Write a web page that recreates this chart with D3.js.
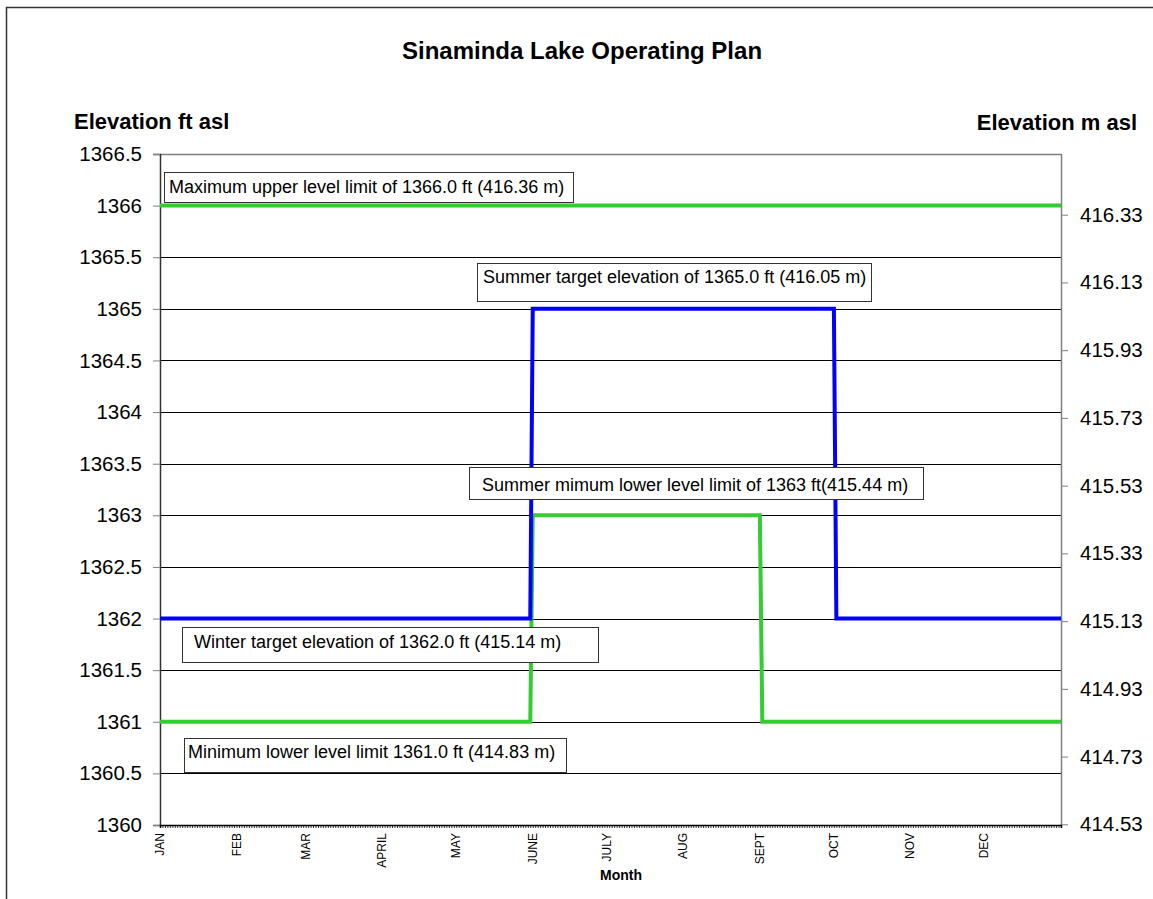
<!DOCTYPE html>
<html>
<head>
<meta charset="utf-8">
<script src="https://cdn.jsdelivr.net/npm/d3@7"></script>
<style>
  html, body { margin: 0; padding: 0; background: #fff; }
  svg { display: block; font-family: "Liberation Sans", Arial, sans-serif; }
</style>
</head>
<body>
<svg id="chart" width="1153" height="899"></svg>
<script>
// ---------------- DATA ----------------
const months = ["JAN","FEB","MAR","APRIL","MAY","JUNE","JULY","AUG","SEPT","OCT","NOV","DEC"];
const monthStartDays = [0,31,59,90,120,151,181,212,243,273,304,334];
const daysInYear = 365;

const ftTicks = [1360,1360.5,1361,1361.5,1362,1362.5,1363,1363.5,1364,1364.5,1365,1365.5,1366,1366.5];
const mTicks = [414.53,414.73,414.93,415.13,415.33,415.53,415.73,415.93,416.13,416.33];

// Maximum upper level limit (green)
const maxDays = [0,365];
const maxValues = [1366,1366];
// Summer / winter target elevation (blue)
const targetDays = [0,150,151,273,274,365];
const targetValues = [1362,1362,1365,1365,1362,1362];
// Minimum lower level limit (green)
const lowerDays = [0,150,151,243,244,365];
const lowerValues = [1361,1361,1363,1363,1361,1361];

const annotationTexts = [
  "Maximum upper level limit of 1366.0 ft (416.36 m)",
  "Summer target elevation of 1365.0 ft (416.05 m)",
  "Summer mimum lower level limit of 1363 ft(415.44 m)",
  "Winter target elevation of 1362.0 ft (415.14 m)",
  "Minimum lower level limit 1361.0 ft (414.83 m)"
];

// ---------------- LAYOUT ----------------
const plot = {left: 160, right: 1061, top: 154, bottom: 825};
const boxLayout = [
  {x: 164, y: 172, w: 409, h: 30, tx: 169, ty: 193},
  {x: 477, y: 263, w: 394, h: 38, tx: 483, ty: 283},
  {x: 469, y: 467, w: 454, h: 32, tx: 482, ty: 491},
  {x: 182, y: 627, w: 416, h: 35, tx: 194, ty: 648},
  {x: 184, y: 738, w: 382, h: 34, tx: 188, ty: 758}
];

const svg = d3.select("#chart");

const x = d3.scaleLinear().domain([0, daysInYear]).range([plot.left, plot.right]);
const y = d3.scaleLinear().domain([1360, 1366.5]).range([plot.bottom, plot.top]);
const yM = d3.scaleLinear().domain([1360 * 0.3048, 1366.5 * 0.3048]).range([plot.bottom, plot.top]);

// outer frame (clipped at right/bottom like the reference)
svg.append("path")
  .attr("d", "M6.5,899 V7.5 H1153")
  .attr("fill", "none").attr("stroke", "#333").attr("stroke-width", 1.5);

// titles
svg.append("text").attr("x", 582).attr("y", 59)
  .attr("text-anchor", "middle").attr("font-weight", "bold").attr("font-size", 24)
  .text("Sinaminda Lake Operating Plan");
svg.append("text").attr("x", 74).attr("y", 129)
  .attr("font-weight", "bold").attr("font-size", 22).text("Elevation ft asl");
svg.append("text").attr("x", 1137).attr("y", 130)
  .attr("text-anchor", "end").attr("font-weight", "bold").attr("font-size", 22).text("Elevation m asl");

// gridlines
svg.append("g").selectAll("line")
  .data(ftTicks.filter(d => d > 1360 && d < 1366.5))
  .join("line")
  .attr("x1", plot.left).attr("x2", plot.right)
  .attr("y1", d => Math.round(y(d)) + 0.5).attr("y2", d => Math.round(y(d)) + 0.5)
  .attr("stroke", "#000").attr("stroke-width", 1);

// plot frame top & right (gray)
svg.append("path")
  .attr("d", `M${plot.left},${plot.top + 0.5} H${plot.right + 0.5} V${plot.bottom}`)
  .attr("fill", "none").attr("stroke", "#808080").attr("stroke-width", 1.5);

// left axis
const leftAxis = svg.append("g").attr("transform", `translate(${plot.left},0)`)
  .call(d3.axisLeft(y).tickValues(ftTicks).tickSize(7).tickPadding(11).tickFormat(d3.format("")));
leftAxis.select(".domain").attr("stroke", "#333").attr("stroke-width", 1.5);
leftAxis.selectAll(".tick line").attr("stroke", "#808080");
leftAxis.selectAll(".tick text").attr("font-size", 20.5).attr("fill", "#000")
  .style("font-family", '"Liberation Sans", Arial, sans-serif');

// right axis
const rightAxis = svg.append("g").attr("transform", `translate(${plot.right},0)`)
  .call(d3.axisRight(yM).tickValues(mTicks).tickSize(7).tickPadding(12).tickFormat(d3.format(".2f")));
rightAxis.select(".domain").remove();
rightAxis.selectAll(".tick line").attr("stroke", "#808080");
rightAxis.selectAll(".tick text").attr("font-size", 20.5).attr("fill", "#000")
  .style("font-family", '"Liberation Sans", Arial, sans-serif');

// bottom axis: daily minor ticks
const dayTicks = d3.range(0, daysInYear + 1);
const bottomAxis = svg.append("g").attr("transform", `translate(0,${plot.bottom})`)
  .call(d3.axisBottom(x).tickValues(dayTicks).tickSize(3).tickFormat(""));
bottomAxis.select(".domain").attr("stroke", "#000").attr("stroke-width", 1.5);
bottomAxis.selectAll(".tick line").attr("stroke", "#000").attr("stroke-width", 0.8);

// month labels
svg.append("g").selectAll("text")
  .data(months)
  .join("text")
  .attr("transform", (d, i) => `translate(${x(monthStartDays[i]) + 4},${plot.bottom + 8}) rotate(-90)`)
  .attr("text-anchor", "end").attr("font-size", 12)
  .text(d => d);

svg.append("text").attr("x", 621).attr("y", 880)
  .attr("text-anchor", "middle").attr("font-weight", "bold").attr("font-size", 14).text("Month");

// series
const line = d3.line().x(d => x(d[0])).y(d => y(d[1]));
const green = "#33CC33", blue = "#0000FF";
svg.append("path").datum(maxDays.map((d, i) => [d, maxValues[i]]))
  .attr("d", line).attr("fill", "none").attr("stroke", green).attr("stroke-width", 4);
svg.append("path").datum(lowerDays.map((d, i) => [d, lowerValues[i]]))
  .attr("d", line).attr("fill", "none").attr("stroke", green).attr("stroke-width", 4);
svg.append("path").datum(targetDays.map((d, i) => [d, targetValues[i]]))
  .attr("d", line).attr("fill", "none").attr("stroke", blue).attr("stroke-width", 4);

// annotation boxes
const ann = svg.append("g").selectAll("g").data(annotationTexts).join("g");
ann.append("rect")
  .attr("x", (d, i) => boxLayout[i].x + 0.5).attr("y", (d, i) => boxLayout[i].y + 0.5)
  .attr("width", (d, i) => boxLayout[i].w).attr("height", (d, i) => boxLayout[i].h)
  .attr("fill", "#fff").attr("stroke", "#333").attr("stroke-width", 1);
ann.append("text")
  .attr("x", (d, i) => boxLayout[i].tx).attr("y", (d, i) => boxLayout[i].ty)
  .attr("font-size", 18).text(d => d);
</script>
</body>
</html>
